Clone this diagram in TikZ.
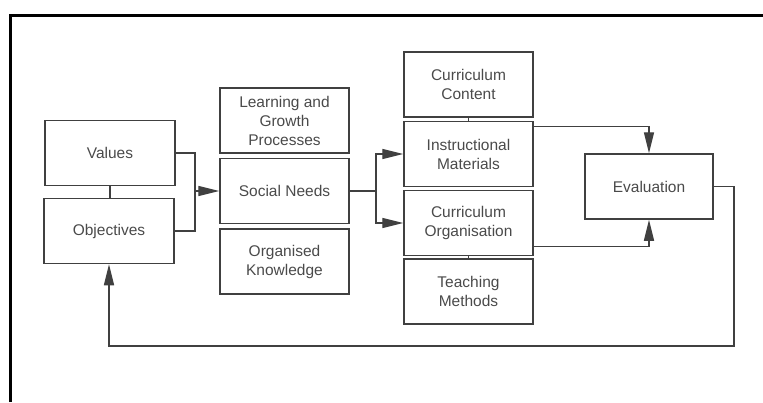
\documentclass[tikz,border=0pt]{standalone}
\usepackage{fontspec}
\setmainfont{Liberation Sans}
\usepackage{xcolor}
\usetikzlibrary{arrows.meta,calc}
\definecolor{boxline}{HTML}{404040}
\definecolor{boxtext}{HTML}{4A4A4A}

\begin{document}
\begin{tikzpicture}[x=1pt,y=-1pt,
		stage/.style={draw=boxline,line width=1.5pt,minimum width=129pt,minimum height=65pt,inner sep=0pt,align=center,text=boxtext,font=\fontsize{15.5}{19}\selectfont},
		link/.style={draw=boxline,line width=1.4pt},
		flow/.style={link,-{Triangle[length=21pt,width=10pt]}}]
		\useasboundingbox (0,0) rectangle (763,402);
		\draw[line width=3pt] (10,402) -- (10,15) -- (763,15);
		\node[stage,minimum width=130pt] (values) at (110,153) {Values};
		\node[stage,minimum width=130pt] (objectives) at (109,231) {Objectives};
		\node[stage] (learning) at (284.5,120.5) {Learning and\\Growth\\Processes};
		\node[stage] (social) at (284.5,191) {Social Needs};
		\node[stage] (knowledge) at (284.5,261.5) {Organised\\Knowledge};
		\node[stage] (content) at (468.5,84.5) {Curriculum\\Content};
		\node[stage] (materials) at (468.5,154) {Instructional\\Materials};
		\node[stage] (organisation) at (468.5,223) {Curriculum\\Organisation};
		\node[stage] (methods) at (468.5,291.5) {Teaching\\Methods};
		\node[stage,minimum width=128pt] (evaluation) at (649,186.5) {Evaluation};
		\coordinate (join) at (195,191);
		\coordinate (split) at (376,191);
		\coordinate (back) at (734,346);
		\draw[link] (values.south) -- (values.south |- objectives.north);
		\draw[link] (content.south) -- (materials.north);
		\draw[link] (organisation.south) -- (methods.north);
		\draw[link] (values.east) -| (join) |- (objectives.east);
		\draw[flow] (join) -- (social.west);
		\draw[link] (social.east) -- (split);
		\draw[flow] (split) |- (materials.west);
		\draw[flow] (split) |- (organisation.west);
		\draw[flow] ([yshift=-6pt]materials.north east) -| (evaluation.north);
		\draw[flow] ([yshift=10pt]organisation.south east) -| (evaluation.south);
		\draw[flow] (evaluation.east) -| (back) -| (objectives.south);
		\end{tikzpicture}
\end{document}
